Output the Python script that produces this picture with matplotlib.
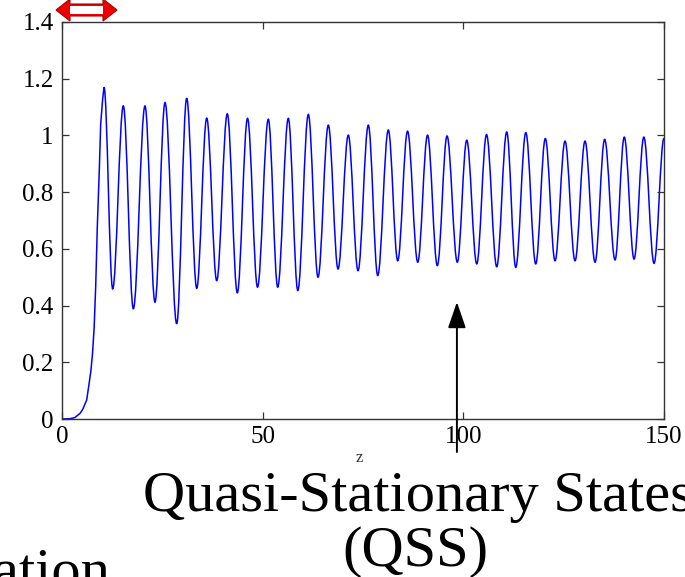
import numpy as np
import matplotlib
matplotlib.use('Agg')
import matplotlib.pyplot as plt
from matplotlib.patches import Polygon, Rectangle, PathPatch
from matplotlib.path import Path

# values
rise_z = [0, 2.0, 3.2, 4.5, 5.2, 6.15, 6.7, 7.2, 7.6, 8.0, 8.4, 8.8, 9.3, 9.64, 10.14]
rise_v = [0, 0.001, 0.005, 0.02, 0.035, 0.067, 0.12, 0.17, 0.23, 0.32, 0.47, 0.68, 0.88, 1.04, 1.13]

peak_z = [10.47, 15.28, 20.68, 25.67, 31.07, 36.06, 41.19, 46.23, 51.41, 56.39,
          61.38, 66.36, 71.34, 76.33, 81.31, 86.1, 91.08, 95.94, 100.85, 105.78,
          110.81, 115.57, 120.43, 125.34, 130.32, 135.21, 140.1, 144.98, 150.0]
peak_v = [1.17, 1.104, 1.104, 1.116, 1.131, 1.061, 1.076, 1.060, 1.057, 1.060,
          1.074, 1.036, 1.001, 1.036, 1.019, 1.015, 1.001, 0.998, 0.983, 1.003,
          1.012, 1.010, 0.989, 0.980, 0.980, 0.986, 0.994, 0.994, 0.99]

trough_z = [12.63, 17.77, 23.17, 28.58, 33.57, 38.55, 43.68, 48.72, 53.75, 58.76,
            63.79, 68.78, 73.76, 78.67, 83.65, 88.64, 93.52, 98.5, 103.34, 108.32,
            113.06, 118.04, 122.85, 127.83, 132.82, 137.8, 142.54, 147.52]
trough_v = [0.459, 0.389, 0.412, 0.336, 0.461, 0.488, 0.445, 0.465, 0.465, 0.453,
            0.50, 0.529, 0.523, 0.506, 0.558, 0.553, 0.541, 0.553, 0.547, 0.537,
            0.535, 0.547, 0.558, 0.558, 0.553, 0.561, 0.564, 0.549]

x_ticks = [0, 50, 100, 150]
y_ticks = [0, 0.2, 0.4, 0.6, 0.8, 1.0, 1.2, 1.4]
y_labels = ['0', '0.2', '0.4', '0.6', '0.8', '1', '1.2', '1.4']

qss_z = 98.4  # where the black arrow stands

# extrema in order along z
ext_z = np.array(peak_z + trough_z)
ext_v = np.array(peak_v + trough_v)
order = np.argsort(ext_z)
ext_z, ext_v = ext_z[order], ext_v[order]

# path: straight pieces for the rise, then smooth (flat-topped) bezier between extrema
verts = list(zip(rise_z, rise_v))
codes = [Path.MOVETO] + [Path.LINETO] * (len(rise_z) - 1)
verts.append((ext_z[0], ext_v[0]))
codes.append(Path.LINETO)
k = 0.3642
for i in range(1, len(ext_z)):
    z0, v0 = ext_z[i - 1], ext_v[i - 1]
    z1, v1 = ext_z[i], ext_v[i]
    d = z1 - z0
    verts += [(z0 + k * d, v0), (z1 - k * d, v1), (z1, v1)]
    codes += [Path.CURVE4] * 3

W, H = 685, 577
fig = plt.figure(figsize=(W / 100, H / 100), dpi=100, facecolor='white')
ax = fig.add_axes([62 / W, 1 - 419 / H, 602 / W, 397 / H])

ax.add_patch(PathPatch(Path(verts, codes), facecolor='none', edgecolor='#0000ff', lw=1.1))
ax.set_xlim(0, 150)
ax.set_ylim(0, 1.4)

serif = ['Liberation Serif', 'DejaVu Serif']
ax.set_xticks(x_ticks)
ax.set_xticklabels([str(t) for t in x_ticks], family=serif, fontsize=18)
ax.set_yticks(y_ticks)
ax.set_yticklabels(y_labels, family=serif, fontsize=18)
ax.tick_params(direction='in', top=True, right=True, length=5, width=0.9, color='#333333')
ax.tick_params(axis='x', pad=5)
ax.tick_params(axis='y', pad=6)
for s in ax.spines.values():
    s.set_color('#333333')
    s.set_linewidth(1.0)

# black arrow pointing at the quasi-stationary part
ax.annotate('', xy=(qss_z, (419 - 302) / 283.6), xytext=(qss_z, (419 - 452) / 283.6),
            xycoords='data', annotation_clip=False,
            arrowprops=dict(arrowstyle='-|>,head_length=1.6,head_width=0.55',
                            color='black', lw=1.4, shrinkA=0, shrinkB=0))

# red double arrow at the top left (figure pixels)
def px(x, y):
    return (x / W, 1 - y / H)

red = Polygon([px(56, 10), px(70, -1), px(70, 4), px(103, 4), px(103, -1),
               px(117, 10), px(103, 21), px(103, 16), px(70, 16), px(70, 21)],
              closed=True, transform=fig.transFigure, facecolor='#ee0000',
              edgecolor='#aa0000', lw=0.8, clip_on=False)
fig.patches.append(red)
fig.patches.append(Rectangle(px(70, 14), 33 / W, 8 / H, transform=fig.transFigure,
                             facecolor='white', edgecolor='none'))

fig.text(359 / W, 1 - 462 / H, 'z', family=serif, fontsize=12, ha='center',
         va='baseline', color='#333333')
fig.text(418 / W, 1 - 511 / H, 'Quasi-Stationary States', family=serif, fontsize=42,
         ha='center', va='baseline')
fig.text(415 / W, 1 - 566 / H, '(QSS)', family=serif, fontsize=42,
         ha='center', va='baseline')
fig.text(110 / W, 1 - 588 / H, 'ation', family=serif, fontsize=42,
         ha='right', va='baseline')

fig.savefig('out.png', dpi=100, facecolor='white')
